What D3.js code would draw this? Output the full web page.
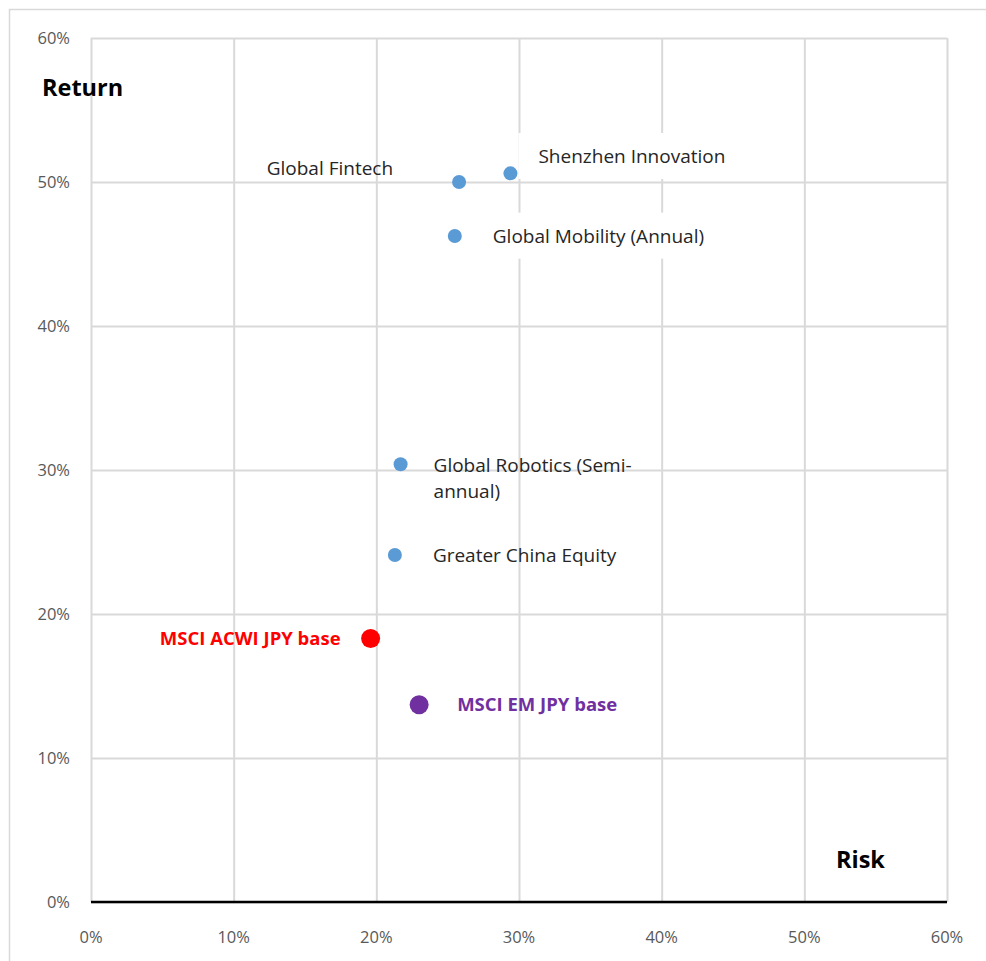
<!DOCTYPE html>
<html>
<head>
<meta charset="utf-8">
<script src="https://cdn.jsdelivr.net/npm/d3@7"></script>
<style>
  body { margin: 0; background: #fff; }
  text { font-family: "Open Sans", Lato, sans-serif; }
</style>
</head>
<body>
<script>
// Data (percent)
var names = ["Global Fintech", "Shenzhen Innovation", "Global Mobility (Annual)",
  "Global Robotics (Semi-|annual)", "Greater China Equity", "MSCI ACWI JPY base", "MSCI EM JPY base"];
var risk = [25.8, 29.4, 25.5, 21.7, 21.3, 19.6, 23.0];
var ret = [50.0, 50.6, 46.25, 30.4, 24.1, 18.3, 13.7];
var ticks = [0, 10, 20, 30, 40, 50, 60];

// label placement relative to each point: dx, dy, anchor
var labelOffsets = [[-66, -14, "end"], [28, -17, "start"], [38, 0, "start"],
  [33, 1, "start"], [38, 0, "start"], [-30, 0, "end"], [38, 0, "start"]];
var boxed = ["Shenzhen Innovation", "Global Mobility (Annual)"];

var svgWidth = 986;
var svgHeight = 961;
var margin = { top: 38, right: 39, bottom: 59, left: 91 };
var width = svgWidth - margin.left - margin.right;
var height = svgHeight - margin.top - margin.bottom;

var svg = d3.select("body").append("svg")
  .attr("width", svgWidth)
  .attr("height", svgHeight);

// outer chart border
svg.append("rect")
  .attr("x", 9.5).attr("y", 9.5)
  .attr("width", svgWidth + 10).attr("height", svgHeight + 10)
  .attr("fill", "none").attr("stroke", "#d9d9d9").attr("stroke-width", 1.5);

var chartGroup = svg.append("g")
  .attr("transform", `translate(${margin.left}, ${margin.top})`);

var x = d3.scaleLinear().domain([0, 60]).range([0, width]);
var y = d3.scaleLinear().domain([0, 60]).range([height, 0]);

// gridlines
chartGroup.append("g")
  .attr("transform", `translate(0, ${height})`)
  .call(d3.axisBottom(x).tickValues(ticks).tickSize(-height).tickFormat(""))
  .call(g => g.select(".domain").remove())
  .selectAll("line").attr("stroke", "#d9d9d9").attr("stroke-width", 2);

chartGroup.append("g")
  .call(d3.axisLeft(y).tickValues(ticks).tickSize(-width).tickFormat(""))
  .call(g => g.select(".domain").remove())
  .selectAll("line").attr("stroke", "#d9d9d9").attr("stroke-width", 2);

// tick labels
var tickColor = "#595959";
chartGroup.selectAll(".ytick").data(ticks).enter().append("text")
  .attr("x", -21)
  .attr("y", d => y(d))
  .attr("dy", "0.35em")
  .attr("text-anchor", "end")
  .attr("fill", tickColor)
  .style("font-size", "16.5px")
  .text(d => d + "%");

chartGroup.selectAll(".xtick").data(ticks).enter().append("text")
  .attr("x", d => x(d))
  .attr("y", height + 35)
  .attr("dy", "0.35em")
  .attr("text-anchor", "middle")
  .attr("fill", tickColor)
  .style("font-size", "16.5px")
  .text(d => d + "%");

// x axis baseline
chartGroup.append("line")
  .attr("x1", 0).attr("x2", width)
  .attr("y1", height).attr("y2", height)
  .attr("stroke", "#000").attr("stroke-width", 2.5);

// axis titles
chartGroup.append("text")
  .attr("x", 42 - margin.left).attr("y", 88 - margin.top)
  .attr("dy", "0.35em")
  .style("font-size", "23.5px").style("font-weight", "bold")
  .text("Return");

chartGroup.append("text")
  .attr("x", 836 - margin.left).attr("y", 860 - margin.top)
  .attr("dy", "0.35em")
  .style("font-size", "23.5px").style("font-weight", "bold")
  .text("Risk");

var points = names.map((n, i) => ({ name: n, risk: risk[i], ret: ret[i], off: labelOffsets[i] }));

function colorOf(d) {
  if (d.name == "MSCI ACWI JPY base") return "#ff0000";
  if (d.name == "MSCI EM JPY base") return "#7030a0";
  return "#5b9bd5";
}
function isIndex(d) { return d.name.indexOf("MSCI") == 0; }

// labels
var labels = chartGroup.selectAll("g.lbl").data(points).enter().append("g").attr("class", "lbl");

labels.each(function(d) {
  var g = d3.select(this);
  var lines = d.name.split("|");
  var t = g.append("text")
    .attr("x", x(d.risk) + d.off[0])
    .attr("y", y(d.ret) + d.off[1])
    .attr("text-anchor", d.off[2])
    .attr("fill", isIndex(d) ? colorOf(d) : "#262626")
    .style("font-size", isIndex(d) ? "18.5px" : "19px")
    .style("font-weight", isIndex(d) ? "bold" : "normal");
  lines.forEach(function(l, k) {
    t.append("tspan")
      .attr("x", x(d.risk) + d.off[0])
      .attr("dy", k == 0 ? "0.35em" : "1.35em")
      .text(l);
  });
  if (boxed.indexOf(d.name) >= 0) {
    var bb = t.node().getBBox();
    g.insert("rect", "text")
      .attr("x", bb.x - 20).attr("y", bb.y - 10)
      .attr("width", bb.width + 26).attr("height", bb.height + 20)
      .attr("fill", "#fff");
  }
});

// points
chartGroup.selectAll("circle").data(points).enter().append("circle")
  .attr("cx", d => x(d.risk))
  .attr("cy", d => y(d.ret))
  .attr("r", d => isIndex(d) ? 9.5 : 7)
  .attr("fill", colorOf);
</script>
</body>
</html>
